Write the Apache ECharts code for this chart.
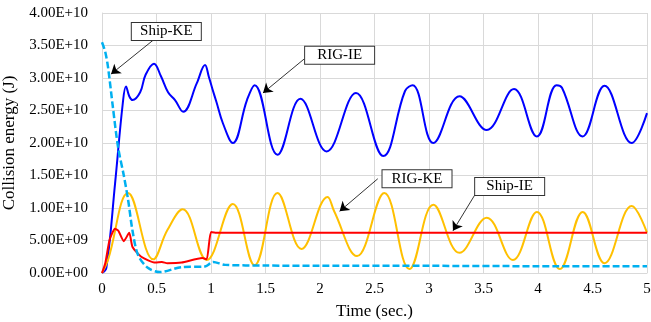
<!DOCTYPE html>
<html>
<head>
<meta charset="utf-8">
<script src="https://cdn.jsdelivr.net/npm/echarts@6/dist/echarts.min.js"></script>
<style>
  html, body { margin: 0; padding: 0; background: #fff; }
  #chart { width: 651px; height: 322px; }
</style>
</head>
<body>
<div id="chart"></div>
<script>
// time (s) and energy (J)
var rigIE = [
  [0, 0], [0.04, 0.8e9], [0.12, 13.8e9], [0.19, 26e9], [0.22, 28.7e9], [0.25, 27.2e9],
  [0.28, 26.6e9], [0.35, 27.8e9], [0.4, 30.5e9], [0.477, 32.2e9], [0.54, 30.3e9], [0.606, 27.8e9],
  [0.67, 26.6e9], [0.745, 24.8e9], [0.87, 29.2e9], [0.945, 32e9], [0.98, 30.2e9], [1.015, 28.2e9],
  [1.05, 26.3e9], [1.11, 23e9], [1.2, 20e9], [1.33, 26.6e9],
  [1.4, 28.9e9], [1.61, 18.2e9], [1.82, 26.8e9], [2.06, 18.7e9], [2.33, 27.7e9], [2.58, 18e9],
  [2.78, 28e9], [2.85, 28.9e9], [3.04, 20e9], [3.28, 27.2e9], [3.53, 22e9], [3.78, 28.3e9],
  [3.99, 21e9], [4.17, 28.9e9], [4.22, 28.5e9], [4.41, 21e9], [4.61, 28.8e9], [4.86, 20e9], [5.0, 24.6e9]
];
var rigKE = [
  [0, 0], [0.055, 2e9], [0.24, 12.3e9], [0.47, 2.1e9], [0.6, 6.6e9], [0.74, 9.8e9], [0.96, 2e9],
  [1.2, 10.6e9], [1.4, 1.2e9], [1.61, 12.3e9], [1.83, 3.7e9], [2.07, 11.7e9], [2.13, 9.5e9],
  [2.34, 2.6e9], [2.59, 12.3e9], [2.82, 0.6e9], [3.04, 10.5e9], [3.28, 3.1e9], [3.53, 8.5e9],
  [3.77, 2e9], [3.99, 9.4e9], [4.2, 0.6e9], [4.41, 9.4e9], [4.61, 1.5e9], [4.86, 10.3e9], [5.0, 6.2e9]
];
var shipIE = [
  [0, 0], [0.03, 1.5e9], [0.07, 5.1e9], [0.12, 6.8e9], [0.15, 6.5e9], [0.2, 4.9e9], [0.25, 6.2e9],
  [0.28, 4e9], [0.36, 2.5e9], [0.49, 1.6e9], [0.55, 1.7e9], [0.6, 1.5e9], [0.73, 1.6e9],
  [0.92, 2.3e9], [0.96, 2.1e9], [1.0, 6.3e9], [1.04, 6.2e9], [5.0, 6.2e9]
];
var shipKE = [
  [0, 35.5e9], [0.03, 34e9], [0.055, 31.7e9], [0.1, 25.5e9], [0.147, 19.4e9], [0.2, 15e9],
  [0.24, 11.2e9], [0.28, 6.5e9], [0.33, 2.8e9], [0.42, 0.8e9], [0.53, 0.15e9], [0.73, 0.9e9],
  [0.945, 1e9], [1.02, 1.7e9], [1.13, 1.25e9], [1.5, 1.15e9], [2, 1.1e9], [3, 1.1e9], [4, 1.05e9], [5, 1.05e9]
];

// callouts: label box centre, arrow start, arrow tip (data coords)
var callouts = {
  'Ship-KE': { box: [0.59, 37.15e9], from: [0.468, 35.8e9], to: [0.083, 30.6e9] },
  'RIG-IE':  { box: [2.18, 33.5e9],  from: [1.853, 32.9e9], to: [1.477, 27.7e9] },
  'RIG-KE':  { box: [2.89, 14.5e9],  from: [2.53, 14.5e9],  to: [2.18, 9.5e9] },
  'Ship-IE': { box: [3.74, 13.3e9],  from: [3.42, 12.0e9],  to: [3.22, 6.5e9] }
};

var serifFont = 'Liberation Serif';

function sci(v) {
  if (v === 0) return '0.00E+00';
  var e = Math.floor(Math.log10(v) + 1e-9);
  var m = v / Math.pow(10, e);
  return m.toFixed(2) + 'E+' + (e < 10 ? '0' : '') + e;
}

function callout(name) {
  var c = callouts[name];
  return {
    markLine: {
      silent: true,
      animation: false,
      symbol: ['none', 'arrow'],
      symbolSize: 9,
      lineStyle: { color: '#000', width: 0.8, type: 'solid' },
      label: { show: false },
      data: [[{ coord: c.from }, { coord: c.to }]]
    },
    markPoint: {
      silent: true,
      animation: false,
      symbol: 'rect',
      symbolSize: 0,
      data: [{ coord: c.box, name: name }],
      label: {
        show: true,
        position: 'inside',
        formatter: name,
        fontFamily: serifFont,
        fontSize: 15,
        color: '#000',
        backgroundColor: '#fff',
        borderColor: '#333',
        borderWidth: 1,
        width: 55,
        height: 15,
        lineHeight: 15,
        align: 'center',
        verticalAlign: 'middle',
        padding: [1, 7]
      }
    }
  };
}

function lineSeries(name, data, color, extra) {
  var s = {
    name: name,
    type: 'line',
    data: data,
    showSymbol: false,
    smooth: 0.4,
    lineStyle: { color: color, width: 2 },
    itemStyle: { color: color },
    animation: false
  };
  var c = callout(name);
  s.markLine = c.markLine;
  s.markPoint = c.markPoint;
  for (var k in extra) s[k] = extra[k];
  return s;
}

var chart = echarts.init(document.getElementById('chart'));
var option = {
  backgroundColor: '#fff',
  grid: { left: 102, right: 4, top: 13, bottom: 49, containLabel: false, outerBoundsMode: 'none' },
  xAxis: {
    type: 'value',
    min: 0,
    max: 5,
    interval: 0.5,
    name: 'Time (sec.)',
    nameLocation: 'middle',
    nameGap: 30,
    nameTextStyle: { fontFamily: serifFont, fontSize: 17, color: '#000' },
    axisLine: { lineStyle: { color: '#d9d9d9' } },
    axisTick: { show: false },
    axisLabel: { fontFamily: serifFont, fontSize: 15, color: '#000', margin: 9 },
    splitLine: { lineStyle: { color: '#d9d9d9' } }
  },
  yAxis: {
    type: 'value',
    min: 0,
    max: 4e10,
    interval: 5e9,
    name: 'Collision energy (J)',
    nameLocation: 'middle',
    nameGap: 76,
    nameTextStyle: { fontFamily: serifFont, fontSize: 17, color: '#000' },
    axisLine: { show: true, lineStyle: { color: '#d9d9d9' } },
    axisTick: { show: false },
    axisLabel: { fontFamily: serifFont, fontSize: 15, color: '#000', margin: 14, formatter: sci },
    splitLine: { lineStyle: { color: '#d9d9d9' } }
  },
  series: [
    lineSeries('RIG-IE', rigIE, '#0000ff', {}),
    lineSeries('RIG-KE', rigKE, '#ffc000', {}),
    lineSeries('Ship-IE', shipIE, '#ff0000', { smooth: 0.2 }),
    lineSeries('Ship-KE', shipKE, '#00b0f0', {
      smooth: 0.3,
      lineStyle: { color: '#00b0f0', width: 2.5, type: [7, 3] }
    })
  ]
};
chart.setOption(option);
window.onresize = function () {
  chart.resize();
};
</script>
</body>
</html>
